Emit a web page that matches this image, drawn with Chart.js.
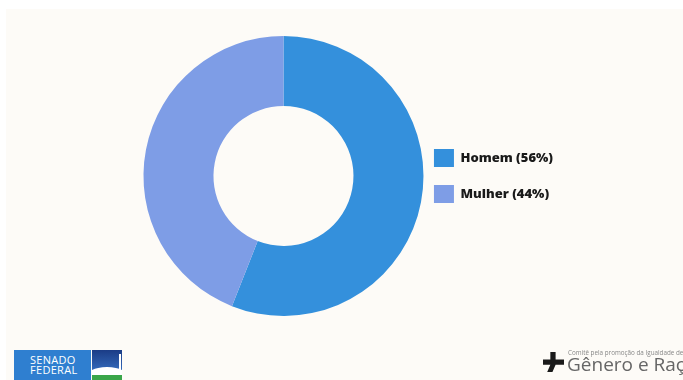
<!DOCTYPE html>
<html>
<head>
<meta charset="utf-8">
<script src="https://cdn.jsdelivr.net/npm/chart.js@4/dist/chart.umd.min.js"></script>
<style>
  html, body { margin: 0; padding: 0; background: #ffffff; }
  body { width: 683px; height: 380px; position: relative; overflow: hidden; font-family: "Open Sans", sans-serif; }
  .panel { position: absolute; left: 6px; top: 9px; right: 0; bottom: 0; background: #fdfbf7; }
  .chart-box { position: absolute; left: 0; top: 0; width: 683px; height: 352px; }
  /* senado logo */
  .senado { position: absolute; left: 14px; top: 350px; width: 108px; height: 30px; }
  .senado .name { position: absolute; left: 0; top: 0; width: 77px; height: 30px; background: #2f7fd0;
    color: #fff; font: 400 11px/10px "Open Sans", sans-serif; padding: 5px 0 0 16px; box-sizing: border-box; letter-spacing: 0.3px; }
  .senado .mark { position: absolute; left: 78px; top: 0; width: 30px; height: 30px; overflow: hidden;
    background: linear-gradient(#1b3c86, #3f7fd3); }
  .senado .dome { position: absolute; left: -8px; top: 17px; width: 46px; height: 24px; border-radius: 50%; background: #fff; }
  .senado .grass { position: absolute; left: 0; bottom: 0; width: 30px; height: 5px; background: #3aa64a; }
  .senado .pole { position: absolute; left: 27px; top: 4px; width: 2px; height: 20px; background: #fff; }
  /* comite logo */
  .comite { position: absolute; left: 541px; top: 349px; width: 160px; height: 31px; color: #6a6a6a; }
  .comite .sign { position: absolute; left: 2px; top: 3px; width: 21px; height: 20px; }
  .comite .small { position: absolute; left: 27px; top: 0; font: 6.3px/8px "Open Sans", sans-serif; white-space: nowrap; color: #888; }
  .comite .big { position: absolute; left: 26px; top: 3px; font: 400 19px/24px "Open Sans", sans-serif; white-space: nowrap; color: #666; }
</style>
</head>
<body>
<div class="panel"></div>
<div class="chart-box"><canvas id="donut"></canvas></div>

<div class="senado">
  <div class="name">SENADO<br>FEDERAL</div>
  <div class="mark"><div class="dome"></div><div class="pole"></div><div class="grass"></div></div>
</div>
<div class="comite">
  <svg class="sign" viewBox="0 0 20 19">
    <path d="M7 0h5v7h8v5h-8l-3 7h-5l3-7H0V7h7z" fill="#1a1a1a"/>
  </svg>
  <div class="small">Comitê pela promoção da Igualdade de Gênero e Raça</div>
  <div class="big">Gênero e Raça</div>
</div>

<script>
const generos = ['Homem (56%)', 'Mulher (44%)'];
const percentuais = [56, 44];
const cores = ['#3490dc', '#7e9de6'];

const data_donut = {
  labels: generos,
  datasets: [
    {
      data: percentuais,
      backgroundColor: cores,
      borderWidth: 0,
      hoverOffset: 0,
      clip: false,
    },
  ],
};

const config_donut = {
  type: 'doughnut',
  data: data_donut,
  options: {
    responsive: true,
    maintainAspectRatio: false,
    animation: false,
    events: [],
    cutout: '50%',
    radius: 140,
    layout: {
      padding: { left: 151, right: 120, top: 0, bottom: 0 },
    },
    plugins: {
      tooltip: { enabled: false },
      legend: {
        position: 'right',
        labels: {
          boxWidth: 20,
          boxHeight: 18,
          padding: 18,
          color: '#1a1a1a',
          font: { family: '"Open Sans", sans-serif', size: 13, weight: 800 },
        },
      },
    },
  },
};

const myDonut = new Chart(
  document.getElementById('donut'),
  config_donut
);
</script>
</body>
</html>
